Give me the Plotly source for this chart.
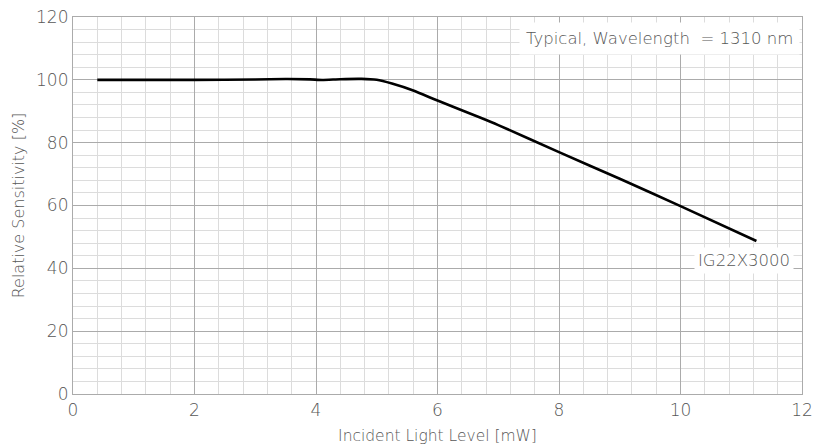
import plotly.graph_objects as go

# Relative sensitivity vs incident light level, IG22X3000 at 1310 nm
light_mw = [0.4, 1.0, 2.0, 3.0, 3.5, 3.9, 4.1, 4.4, 4.75, 5.0, 5.25, 5.6, 6.0, 6.7, 7.0, 8.0, 9.0, 10.0, 11.25]
sensitivity = [100.0, 100.0, 100.0, 100.1, 100.25, 100.15, 99.95, 100.2, 100.3, 100.0, 98.8, 96.6, 93.4, 88.0, 85.6, 77.0, 68.5, 59.8, 48.7]

series_name = "IG22X3000"
note_text = "Typical, Wavelength  = 1310 nm"
x_title = "Incident Light Level [mW]"
y_title = "Relative Sensitivity [%]"

FONT = "'DejaVu Sans', sans-serif"
TEXT = "#575757"
MAJOR = "#ababab"
MINOR = "#dcdcdc"

fig = go.Figure()
fig.add_trace(go.Scatter(
    x=light_mw, y=sensitivity, mode="lines", name=series_name,
    line=dict(color="black", width=2.6, shape="spline", smoothing=0.6),
    showlegend=False,
))

axis_common = dict(
    showline=True, linecolor=MAJOR, linewidth=1.2, mirror=True,
    showgrid=True, gridcolor=MAJOR, gridwidth=1,
    zeroline=False, ticks="", automargin=False,
    tickfont=dict(family=FONT, size=17, color=TEXT, weight=300),
)

fig.update_xaxes(
    range=[0, 12], dtick=2, tick0=0,
    minor=dict(dtick=0.4, showgrid=True, gridcolor=MINOR, gridwidth=1),
    title_text=x_title, title_standoff=11,
    title_font=dict(family=FONT, size=15.5, color=TEXT, weight=300),
    **axis_common,
)
fig.update_yaxes(
    range=[0, 120], dtick=20, tick0=0,
    minor=dict(dtick=4, showgrid=True, gridcolor=MINOR, gridwidth=1),
    title_text=y_title, title_standoff=7,
    title_font=dict(family=FONT, size=16, color=TEXT, weight=300),
    **axis_common,
)

fig.add_annotation(
    x=1, xref="paper", y=113, yref="y", xanchor="right", yanchor="middle",
    text=note_text, showarrow=False, bgcolor="white",
    font=dict(family=FONT, size=16.5, color=TEXT, weight=300), borderpad=6, xshift=-2,
)
fig.add_annotation(
    x=1, xref="paper", y=42.5, yref="y", xanchor="right", yanchor="middle",
    text=series_name, showarrow=False, bgcolor="white",
    font=dict(family=FONT, size=16.5, color=TEXT, weight=300), borderpad=3, xshift=-8,
)

fig.update_layout(
    width=817, height=446,
    margin=dict(l=73, r=15, t=17, b=52),
    plot_bgcolor="white", paper_bgcolor="white",
    font=dict(family=FONT, color=TEXT),
)

fig.write_html("out.html")
